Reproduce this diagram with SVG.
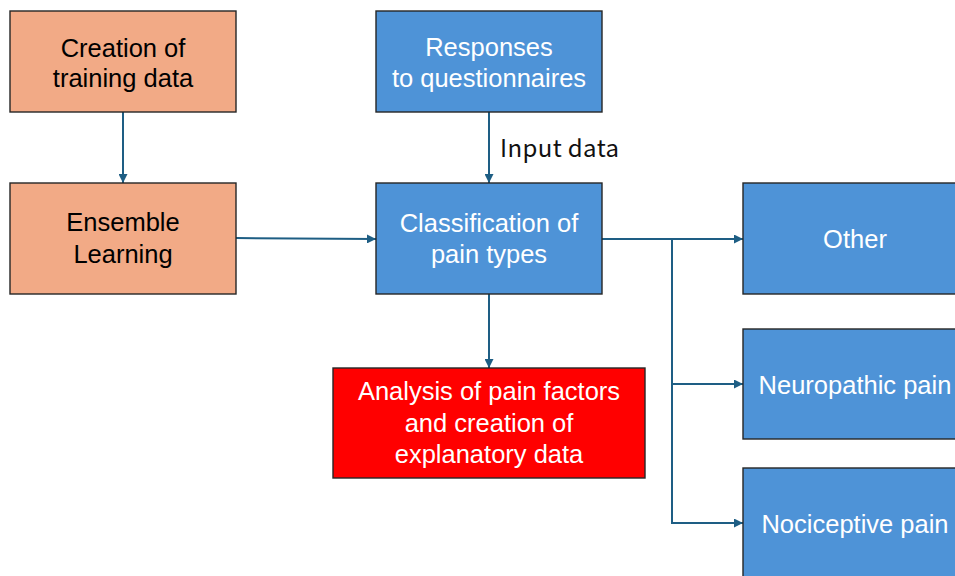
<svg xmlns="http://www.w3.org/2000/svg" width="955" height="576" viewBox="0 0 955 576">
<style>
.box{stroke:#262626;stroke-width:1.4}
.orange{fill:#F2AA86}
.blue{fill:#4E93D7}
.red{fill:#FF0000}
.t{font-family:"Liberation Sans",Arial,sans-serif;font-size:25.5px;text-anchor:middle}
.dark{fill:#000}
.light{fill:#fff}
.conn{stroke:#1E5E84;stroke-width:2;fill:none}
.lbl{font-family:"Noto Sans CJK JP","Noto Sans",sans-serif;font-size:24px;fill:#111}
</style>
<defs>
<marker id="ah" viewBox="0 0 10 10" refX="10" refY="5" markerWidth="4.5" markerHeight="4.5" orient="auto" markerUnits="strokeWidth">
<path d="M0,0 L10,5 L0,10 z" fill="#1E5E84"/>
</marker>
</defs>
<rect width="955" height="576" fill="#fff"/>
<g id="connectors">
<line class="conn" x1="123" y1="112" x2="123" y2="183" marker-end="url(#ah)"/>
<line class="conn" x1="236" y1="238" x2="376" y2="239" marker-end="url(#ah)"/>
<line class="conn" x1="489" y1="112" x2="489" y2="183" marker-end="url(#ah)"/>
<line class="conn" x1="489" y1="294" x2="489" y2="368" marker-end="url(#ah)"/>
<line class="conn" x1="602" y1="239" x2="743" y2="239" marker-end="url(#ah)"/>
<polyline class="conn" points="672,239 672,523 743,523" marker-end="url(#ah)"/>
<line class="conn" x1="672" y1="384" x2="743" y2="384" marker-end="url(#ah)"/>
<text class="lbl" x="500" y="157" textLength="119">Input data</text>
</g>
<g id="creation">
<rect class="box orange" x="10" y="11" width="226" height="101"/>
<text class="t dark" x="123" y="57">Creation of</text>
<text class="t dark" x="123" y="87">training data</text>
</g>
<g id="ensemble">
<rect class="box orange" x="10" y="183" width="226" height="111"/>
<text class="t dark" x="123" y="231">Ensemble</text>
<text class="t dark" x="123" y="263">Learning</text>
</g>
<g id="responses">
<rect class="box blue" x="376" y="11" width="226" height="101"/>
<text class="t light" x="489" y="56">Responses</text>
<text class="t light" x="489" y="87">to questionnaires</text>
</g>
<g id="classification">
<rect class="box blue" x="376" y="183" width="226" height="111"/>
<text class="t light" x="489" y="232">Classification of</text>
<text class="t light" x="489" y="263">pain types</text>
</g>
<g id="analysis">
<rect class="box red" x="333" y="368" width="312" height="110"/>
<text class="t light" x="489" y="400">Analysis of pain factors</text>
<text class="t light" x="489" y="432">and creation of</text>
<text class="t light" x="489" y="463">explanatory data</text>
</g>
<g id="other">
<rect class="box blue" x="743" y="183" width="226" height="111"/>
<text class="t light" x="855" y="248">Other</text>
</g>
<g id="neuropathic">
<rect class="box blue" x="743" y="329" width="226" height="110"/>
<text class="t light" x="855" y="394">Neuropathic pain</text>
</g>
<g id="nociceptive">
<rect class="box blue" x="743" y="468" width="226" height="120"/>
<text class="t light" x="855" y="533">Nociceptive pain</text>
</g>
</svg>
